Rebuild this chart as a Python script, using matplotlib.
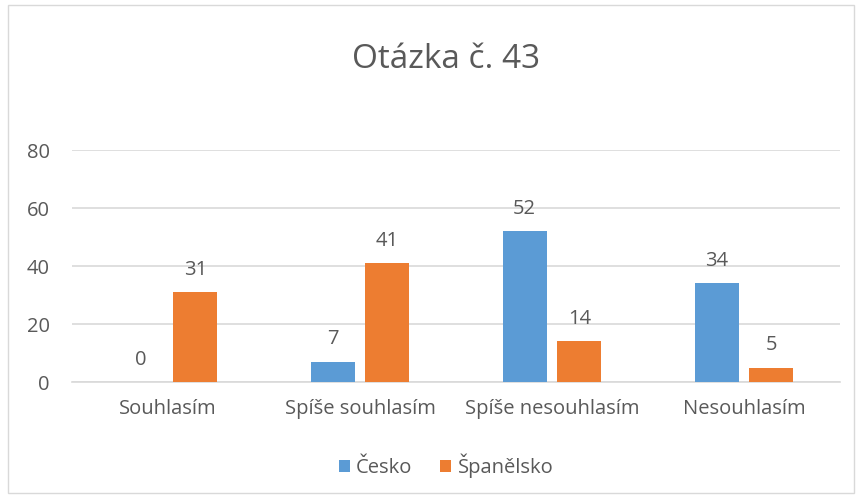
import matplotlib.pyplot as plt
import numpy as np
from matplotlib.patches import Rectangle

plt.rcParams['font.family'] = ['Open Sans', 'DejaVu Sans']

categories = ["Souhlasím", "Spíše souhlasím", "Spíše nesouhlasím", "Nesouhlasím"]
cesko = [0, 7, 52, 34]
spanelsko = [31, 41, 14, 5]

BLUE = "#5B9BD5"
ORANGE = "#ED7D31"
TEXT = "#595959"
GRID = "#D9D9D9"

fig = plt.figure(figsize=(8.62, 4.98), dpi=100)
ax = fig.add_axes([72 / 862, 1 - 382 / 498, 768 / 862, 232 / 498])

x = np.arange(len(categories))
w = 0.229
gap = 0.057
b1 = ax.bar(x - (w + gap) / 2, cesko, w, color=BLUE, label="Česko", zorder=3)
b2 = ax.bar(x + (w + gap) / 2, spanelsko, w, color=ORANGE, label="Španělsko", zorder=3)

for bars in (b1, b2):
    for rect in bars:
        h = rect.get_height()
        ax.annotate(f"{h:.0f}", (rect.get_x() + rect.get_width() / 2, h),
                    xytext=(0, 9), textcoords="offset points",
                    ha="center", va="bottom", fontsize=14.5, color=TEXT)

ax.set_xlim(-0.5, len(categories) - 0.5)
ax.set_ylim(0, 80)
ax.set_yticks([0, 20, 40, 60, 80])
ax.set_xticks(x)
ax.set_xticklabels(categories)
ax.tick_params(axis="both", length=0, labelsize=14.5, colors=TEXT)
ax.tick_params(axis="y", pad=16)
ax.tick_params(axis="x", pad=12)
ax.yaxis.grid(True, color=GRID, linewidth=1.2, zorder=0)
for s in ("top", "right", "left"):
    ax.spines[s].set_visible(False)
ax.spines["bottom"].set_color(GRID)
ax.spines["bottom"].set_linewidth(1.2)

fig.text(446 / 862, 1 - 60 / 498, "Otázka č. 43", ha="center", va="center",
         fontsize=24, color=TEXT)

fig.legend(loc="center", bbox_to_anchor=(446 / 862, 1 - 466 / 498), ncol=2,
           frameon=False, fontsize=14.5, labelcolor=TEXT,
           handlelength=0.55, handleheight=0.55, handletextpad=0.3, columnspacing=1.4)

fig.patches.append(Rectangle((8 / 862, 5 / 498), 846 / 862, 488 / 498,
                             transform=fig.transFigure, fill=False,
                             edgecolor=GRID, linewidth=1))

fig.savefig("out.png", dpi=100)
